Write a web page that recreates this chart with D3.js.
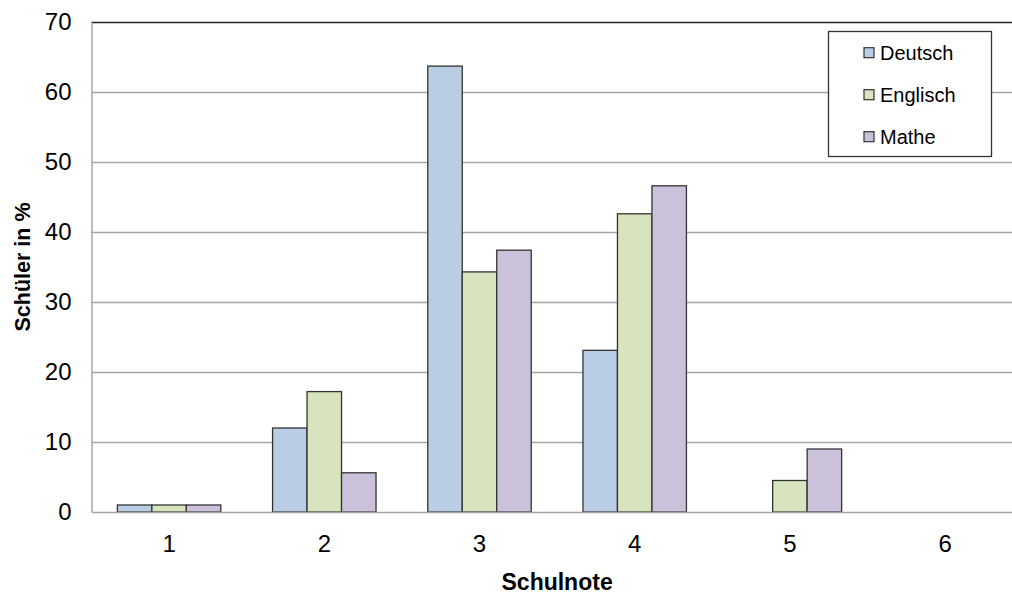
<!DOCTYPE html>
<html>
<head>
<meta charset="utf-8">
<script src="https://cdn.jsdelivr.net/npm/d3@7"></script>
<style>
  html, body { margin: 0; padding: 0; background: #fff; }
  svg { display: block; font-family: "Liberation Sans", Arial, sans-serif; }
</style>
</head>
<body>
<svg id="chart" width="1012" height="595"></svg>
<script>
const categories = ["1", "2", "3", "4", "5", "6"];
const seriesNames = ["Deutsch", "Englisch", "Mathe"];
const deutsch  = [1.0, 12.0, 63.7, 23.1, 0, 0];
const englisch = [1.0, 17.2, 34.3, 42.6, 4.5, 0];
const mathe    = [1.0, 5.6, 37.4, 46.6, 9.0, 0];
const yTicks = [0, 10, 20, 30, 40, 50, 60, 70];
const colors = ["#b9cde5", "#d7e4bd", "#ccc1da"];

const seriesValues = [deutsch, englisch, mathe];
const svg = d3.select("#chart");

const pLeft = 91.5, pRight = 1022.7, pTop = 22, pBottom = 512;

const x0 = d3.scaleBand().domain(categories).range([pLeft, pRight]).padding(0);
const bw = x0.bandwidth();
const groupW = bw * 3 / 4.5;
const x1 = d3.scaleBand().domain(seriesNames)
  .range([(bw - groupW) / 2, (bw + groupW) / 2]).padding(0);
const y = d3.scaleLinear().domain([0, 70]).range([pBottom, pTop]);

// gridlines
const grid = svg.append("g");
grid.selectAll("line").data(yTicks.filter(t => t > 0 && t < 70)).join("line")
  .attr("x1", pLeft).attr("x2", pRight)
  .attr("y1", d => Math.round(y(d)) + 0.5).attr("y2", d => Math.round(y(d)) + 0.5)
  .attr("stroke", "#a6a6a6").attr("stroke-width", 1.5);
// top border
svg.append("line").attr("x1", pLeft).attr("x2", pRight)
  .attr("y1", Math.round(y(70)) + 0.5).attr("y2", Math.round(y(70)) + 0.5)
  .attr("stroke", "#222").attr("stroke-width", 1.5);

// bars
const data = [];
categories.forEach((c, i) => seriesNames.forEach((s, j) => {
  data.push({ cat: c, series: s, value: seriesValues[j][i], color: colors[j] });
}));
svg.append("g").selectAll("rect").data(data.filter(d => d.value > 0)).join("rect")
  .attr("x", d => x0(d.cat) + x1(d.series))
  .attr("y", d => y(d.value))
  .attr("width", x1.bandwidth())
  .attr("height", d => y(0) - y(d.value))
  .attr("fill", d => d.color)
  .attr("stroke", "#333")
  .attr("stroke-width", 1.3);

// y axis
const yAxis = d3.axisLeft(y).tickValues(yTicks).tickSize(0).tickPadding(20);
const yg = svg.append("g").attr("transform", `translate(${pLeft},0)`).call(yAxis);
yg.select(".domain").attr("stroke", "#a6a6a6").attr("stroke-width", 1.5);
yg.selectAll("text").attr("font-size", 24).attr("fill", "#000")
  .attr("font-family", "Liberation Sans, Arial, sans-serif");

// x axis
const xAxis = d3.axisBottom(x0).tickSize(0).tickPadding(23);
const xg = svg.append("g").attr("transform", `translate(0,${pBottom})`).call(xAxis);
xg.select(".domain").attr("stroke", "#a6a6a6").attr("stroke-width", 1.5);
xg.selectAll("text").attr("font-size", 24).attr("fill", "#000")
  .attr("font-family", "Liberation Sans, Arial, sans-serif");

// axis titles
svg.append("text").attr("x", (pLeft + pRight) / 2).attr("y", 590)
  .attr("text-anchor", "middle").attr("font-size", 23).attr("font-weight", "bold")
  .text("Schulnote");
svg.append("text")
  .attr("transform", `translate(30,${(pTop + pBottom) / 2}) rotate(-90)`)
  .attr("text-anchor", "middle").attr("font-size", 21.5).attr("font-weight", "bold")
  .text("Schüler in %");

// legend
const lg = svg.append("g");
lg.append("rect").attr("x", 828.5).attr("y", 31.5).attr("width", 163).attr("height", 125)
  .attr("fill", "#fff").attr("stroke", "#333").attr("stroke-width", 1.3);
const ly = d3.scalePoint().domain(seriesNames).range([52.7, 136.7]);
seriesNames.forEach((s, j) => {
  lg.append("rect").attr("x", 864).attr("y", ly(s) - 5).attr("width", 10).attr("height", 10)
    .attr("fill", colors[j]).attr("stroke", "#333").attr("stroke-width", 1.2);
  lg.append("text").attr("x", 880).attr("y", ly(s) + 7)
    .attr("font-size", 20).attr("fill", "#000").text(s);
});
</script>
</body>
</html>
